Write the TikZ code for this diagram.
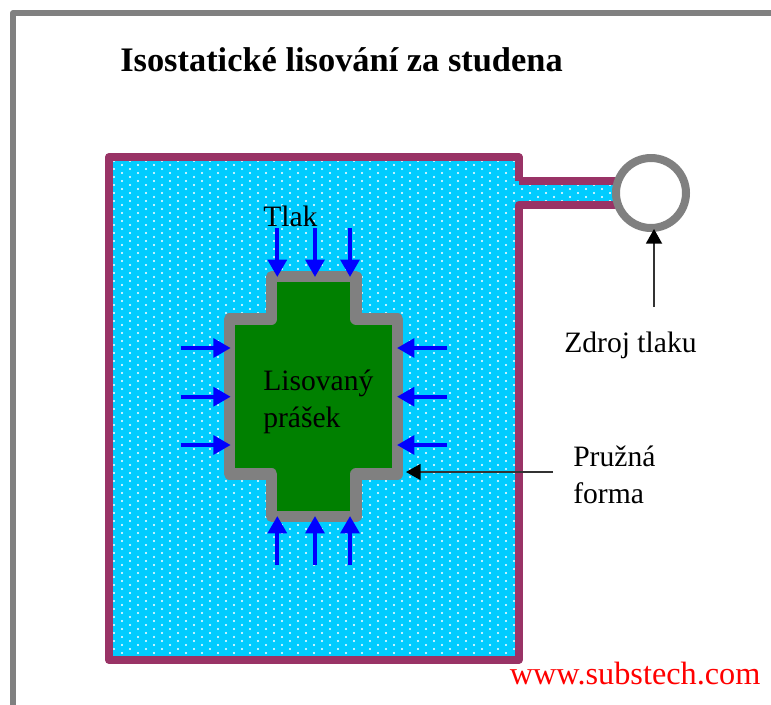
\documentclass[tikz,border=0pt]{standalone}
\usepackage{fontspec}
\setmainfont{Liberation Serif}
\usetikzlibrary{arrows.meta}
\definecolor{vessel}{HTML}{993366}
\definecolor{fluid}{HTML}{00CCFF}
\definecolor{powder}{HTML}{008000}
\definecolor{mould}{HTML}{808080}
\tikzset{
  px/.style={x=0.75pt,y=-0.75pt},
  frameline/.style={draw=mould,line width=4.5pt,line join=round},
  vesselline/.style={draw=vessel,line width=6pt,line join=round},
  mouldline/.style={draw=mould,fill=powder,line width=8.5pt,line join=round},
  sourcecircle/.style={circle,draw=mould,fill=white,line width=6pt,minimum size=52.5pt,inner sep=0pt},
  pressarrow/.style={draw=blue,line width=3pt,-{Triangle[length=13pt,width=14pt]}},
  notearrow/.style={draw=black!80,line width=1.4pt,-{Triangle[length=11pt,width=12pt,black]}},
  lbl/.style={inner sep=0pt,anchor=base west,align=left,font=\fontsize{22.2pt}{27.5pt}\selectfont},
}
\begin{document}
\begin{tikzpicture}[px]
\useasboundingbox (0,0) rectangle (771,704);
% outer frame
\draw[frameline] (13,720) -- (13,13) -- (790,13);
% fluid
\begin{scope}
  \clip (109,157) -- (518.5,157) -- (518.5,181) -- (640,181) -- (640,205) -- (518.5,205) -- (518.5,660) -- (109,660) -- cycle;
  \fill[fluid] (100,150) rectangle (650,670);
  \foreach \i in {0,...,66} { \foreach \j in {0,...,64} {
     \pgfmathsetmacro{\dx}{114+8*\i}
     \pgfmathsetmacro{\dy}{161+4*mod(\i,2)+8*\j}
     \fill[white] (\dx,\dy) circle[radius=1.15];
  } }
\end{scope}
% vessel wall
\draw[vesselline] (518.5,181) -- (518.5,157) -- (109,157) -- (109,660) -- (518.5,660) -- (518.5,205) -- (625,205);
\draw[vesselline] (518.5,181) -- (625,181);
% pressure source
\node[sourcecircle] (source) at (651,193) {};
% mould and powder
\draw[mouldline] (271.7,276.7) -- (356,276.7) -- (356,319) -- (397.5,319) -- (397.5,474) -- (356,474)
  -- (356,516.5) -- (271.7,516.5) -- (271.7,474) -- (229.7,474) -- (229.7,319) -- (271.7,319) -- cycle;
% pressure arrows
\foreach \x [count=\n] in {277.3,315,350} {
  \coordinate (ts\n) at (\x,228); \coordinate (te\n) at (\x,277);
  \coordinate (bs\n) at (\x,565); \coordinate (be\n) at (\x,516);
  \draw[pressarrow] (ts\n) -- (te\n);
  \draw[pressarrow] (bs\n) -- (be\n);
}
\foreach \y [count=\n] in {348,396.7,445} {
  \coordinate (ls\n) at (180.7,\y); \coordinate (le\n) at (230.7,\y);
  \coordinate (rs\n) at (447,\y); \coordinate (re\n) at (397,\y);
  \draw[pressarrow] (ls\n) -- (le\n);
  \draw[pressarrow] (rs\n) -- (re\n);
}
% texts
\node[inner sep=0pt,anchor=base west,font=\fontsize{25.8pt}{30pt}\selectfont\bfseries] (title) at (120,71) {Isostatické lisování za studena};
\node[lbl] (tlak) at (263,226) {Tlak};
\node[lbl] (powderlabel) at (263,427.5) {Lisovaný\\prášek};
\node[lbl] (zdroj) at (564,352) {Zdroj tlaku};
\node[lbl] (pruzna) at (573,503.5) {Pružná\\forma};
\node[inner sep=0pt,anchor=base west,text=red,font=\fontsize{24.2pt}{29pt}\selectfont] (web) at (509.5,684) {www.substech.com};
% note arrows
\coordinate (zdrojtop) at (654,307);
\coordinate (sourcebottom) at (654,229);
\draw[notearrow] (zdrojtop) -- (sourcebottom);
\coordinate (pruznastart) at (553,472);
\coordinate (mouldedge) at (406,472);
\draw[notearrow] (pruznastart) -- (mouldedge);
\end{tikzpicture}
\end{document}
